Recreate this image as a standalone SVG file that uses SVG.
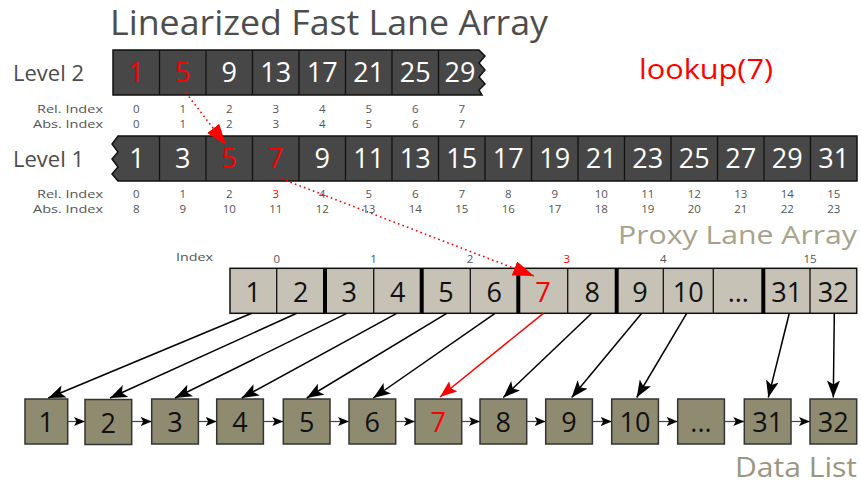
<svg xmlns="http://www.w3.org/2000/svg" width="861" height="484" viewBox="0 0 861 484">
  <style>
    text { font-family: "Open Sans", "DejaVu Sans", sans-serif; }
    .title { font-size: 34px; fill: #4d4d4d; }
    .lvl { font-size: 22px; fill: #4d4d4d; }
    .idxlab { font-size: 11.5px; fill: #555; text-anchor: end; }
    .idx { font-size: 11.5px; fill: #555; text-anchor: middle; }
    .dark { fill: #474747; stroke: #111; stroke-width: 1.5; }
    .sep { stroke: #111; stroke-width: 1.3; }
    .dnum { font-size: 27px; fill: #ffffff; text-anchor: middle; }
    .proxy { fill: #c6c2b5; stroke: #111; stroke-width: 1.5; }
    .thick { stroke: #000; stroke-width: 4; }
    .pnum { font-size: 27px; fill: #111; text-anchor: middle; }
    .box { fill: #8f8b71; stroke: #333; stroke-width: 1.5; }
    .bnum { font-size: 27px; fill: #111; text-anchor: middle; }
    .ptr { stroke: #000; stroke-width: 1.5; fill: none; }
    .chain { stroke: #444; stroke-width: 1.2; fill: none; }
    .hop { stroke: #ff0000; stroke-width: 1.6; stroke-dasharray: 1.6 3.2; fill: none; }
    .hit { stroke: #ff0000; stroke-width: 1.5; fill: none; }
    text.red { fill: #ff0000; }
  </style>
  <defs>
    <marker id="ah" markerUnits="userSpaceOnUse" markerWidth="18" markerHeight="14" refX="17" refY="6.5" orient="auto">
      <path d="M0,0 L17,6.5 L0,13 L4,6.5 z" fill="#000"/>
    </marker>
    <marker id="ahs" markerUnits="userSpaceOnUse" markerWidth="12" markerHeight="10" refX="11" refY="4.5" orient="auto">
      <path d="M0,0 L11,4.5 L0,9 L2.5,4.5 z" fill="#000"/>
    </marker>
    <marker id="ahr" markerUnits="userSpaceOnUse" markerWidth="22" markerHeight="16" refX="21" refY="7.5" orient="auto">
      <path d="M0,0 L21,7.5 L0,15 z" fill="#ff0000"/>
    </marker>
    <marker id="ahr2" markerUnits="userSpaceOnUse" markerWidth="18" markerHeight="14" refX="17" refY="6.5" orient="auto">
      <path d="M0,0 L17,6.5 L0,13 L3,6.5 z" fill="#ff0000"/>
    </marker>
  </defs>

  <!-- headings -->
  <text class="title" x="110" y="35" textLength="438" lengthAdjust="spacingAndGlyphs">Linearized Fast Lane Array</text>
  <text class="red" x="639" y="79" style="font-size:27px" textLength="134" lengthAdjust="spacingAndGlyphs">lookup(7)</text>
  <text x="618" y="243.5" fill="#a6a28c" style="font-size:25px" textLength="239" lengthAdjust="spacingAndGlyphs">Proxy Lane Array</text>
  <text x="735" y="477" fill="#9a9680" style="font-size:28px" textLength="122" lengthAdjust="spacingAndGlyphs">Data List</text>

  <!-- level 2 of the fast lane -->
  <g id="level2">
    <text class="lvl" x="13" y="81">Level 2</text>
    <path class="dark" d="M113,50 H479 L485,56 L479,63 L485,70 L479,77 L485,84 L479,90 L482,95 H113 Z"/>
    <g class="sep">
      <line x1="159.5" y1="50" x2="159.5" y2="95"/>
      <line x1="206" y1="50" x2="206" y2="95"/>
      <line x1="252.5" y1="50" x2="252.5" y2="95"/>
      <line x1="299" y1="50" x2="299" y2="95"/>
      <line x1="345.5" y1="50" x2="345.5" y2="95"/>
      <line x1="392" y1="50" x2="392" y2="95"/>
      <line x1="438.5" y1="50" x2="438.5" y2="95"/>
    </g>
    <g id="l2-c0"><text class="dnum red" x="136.25" y="82">1</text></g>
    <g id="l2-c1"><text class="dnum red" x="182.75" y="82">5</text></g>
    <g id="l2-c2"><text class="dnum" x="229.25" y="82">9</text></g>
    <g id="l2-c3"><text class="dnum" x="275.75" y="82">13</text></g>
    <g id="l2-c4"><text class="dnum" x="322.25" y="82">17</text></g>
    <g id="l2-c5"><text class="dnum" x="368.75" y="82">21</text></g>
    <g id="l2-c6"><text class="dnum" x="415.25" y="82">25</text></g>
    <g id="l2-c7"><text class="dnum" x="460" y="82">29</text></g>
    <text class="idxlab" x="103" y="112.5" textLength="66" lengthAdjust="spacingAndGlyphs">Rel. Index</text>
    <text class="idxlab" x="103" y="127.5" textLength="70" lengthAdjust="spacingAndGlyphs">Abs. Index</text>
    <g class="idx">
      <text x="136.25" y="112.5">0</text><text x="182.75" y="112.5">1</text><text x="229.25" y="112.5">2</text><text x="275.75" y="112.5">3</text>
      <text x="322.25" y="112.5">4</text><text x="368.75" y="112.5">5</text><text x="415.25" y="112.5">6</text><text x="461.75" y="112.5">7</text>
      <text x="136.25" y="127.5">0</text><text x="182.75" y="127.5">1</text><text x="229.25" y="127.5">2</text><text x="275.75" y="127.5">3</text>
      <text x="322.25" y="127.5">4</text><text x="368.75" y="127.5">5</text><text x="415.25" y="127.5">6</text><text x="461.75" y="127.5">7</text>
    </g>
  </g>

  <!-- level 1 of the fast lane -->
  <g id="level1">
    <text class="lvl" x="13" y="167">Level 1</text>
    <path class="dark" d="M118,136 H857 V181 H118 L112,174 L118,167 L112,159 L118,152 L112,144 Z"/>
    <g class="sep">
      <line x1="159.5" y1="136" x2="159.5" y2="181"/>
      <line x1="206" y1="136" x2="206" y2="181"/>
      <line x1="252.5" y1="136" x2="252.5" y2="181"/>
      <line x1="299" y1="136" x2="299" y2="181"/>
      <line x1="345.5" y1="136" x2="345.5" y2="181"/>
      <line x1="392" y1="136" x2="392" y2="181"/>
      <line x1="438.5" y1="136" x2="438.5" y2="181"/>
      <line x1="485" y1="136" x2="485" y2="181"/>
      <line x1="531.5" y1="136" x2="531.5" y2="181"/>
      <line x1="578" y1="136" x2="578" y2="181"/>
      <line x1="624.5" y1="136" x2="624.5" y2="181"/>
      <line x1="671" y1="136" x2="671" y2="181"/>
      <line x1="717.5" y1="136" x2="717.5" y2="181"/>
      <line x1="764" y1="136" x2="764" y2="181"/>
      <line x1="810.5" y1="136" x2="810.5" y2="181"/>
    </g>
    <g id="l1-c0"><text class="dnum" x="137" y="168">1</text></g>
    <g id="l1-c1"><text class="dnum" x="182.75" y="168">3</text></g>
    <g id="l1-c2"><text class="dnum red" x="229.25" y="168">5</text></g>
    <g id="l1-c3"><text class="dnum red" x="275.75" y="168">7</text></g>
    <g id="l1-c4"><text class="dnum" x="322.25" y="168">9</text></g>
    <g id="l1-c5"><text class="dnum" x="368.75" y="168">11</text></g>
    <g id="l1-c6"><text class="dnum" x="415.25" y="168">13</text></g>
    <g id="l1-c7"><text class="dnum" x="461.75" y="168">15</text></g>
    <g id="l1-c8"><text class="dnum" x="508.25" y="168">17</text></g>
    <g id="l1-c9"><text class="dnum" x="554.75" y="168">19</text></g>
    <g id="l1-c10"><text class="dnum" x="601.25" y="168">21</text></g>
    <g id="l1-c11"><text class="dnum" x="647.75" y="168">23</text></g>
    <g id="l1-c12"><text class="dnum" x="694.25" y="168">25</text></g>
    <g id="l1-c13"><text class="dnum" x="740.75" y="168">27</text></g>
    <g id="l1-c14"><text class="dnum" x="787.25" y="168">29</text></g>
    <g id="l1-c15"><text class="dnum" x="833.75" y="168">31</text></g>
    <text class="idxlab" x="103" y="198" textLength="66" lengthAdjust="spacingAndGlyphs">Rel. Index</text>
    <text class="idxlab" x="103" y="213" textLength="70" lengthAdjust="spacingAndGlyphs">Abs. Index</text>
    <g class="idx">
      <text x="136.25" y="198">0</text><text x="182.75" y="198">1</text><text x="229.25" y="198">2</text><text class="red" x="275.75" y="198">3</text>
      <text x="322.25" y="198">4</text><text x="368.75" y="198">5</text><text x="415.25" y="198">6</text><text x="461.75" y="198">7</text>
      <text x="508.25" y="198">8</text><text x="554.75" y="198">9</text><text x="601.25" y="198">10</text><text x="647.75" y="198">11</text>
      <text x="694.25" y="198">12</text><text x="740.75" y="198">13</text><text x="787.25" y="198">14</text><text x="833.75" y="198">15</text>
      <text x="136.25" y="213">8</text><text x="182.75" y="213">9</text><text x="229.25" y="213">10</text><text x="275.75" y="213">11</text>
      <text x="322.25" y="213">12</text><text x="368.75" y="213">13</text><text x="415.25" y="213">14</text><text x="461.75" y="213">15</text>
      <text x="508.25" y="213">16</text><text x="554.75" y="213">17</text><text x="601.25" y="213">18</text><text x="647.75" y="213">19</text>
      <text x="694.25" y="213">20</text><text x="740.75" y="213">21</text><text x="787.25" y="213">22</text><text x="833.75" y="213">23</text>
    </g>
  </g>

  <!-- proxy lane array -->
  <g id="proxy">
    <text class="idx" x="194.5" y="261" textLength="37" lengthAdjust="spacingAndGlyphs">Index</text>
    <g class="idx">
      <text x="276.7" y="263">0</text><text x="373.5" y="263">1</text><text x="470" y="263">2</text>
      <text class="red" x="566.7" y="263">3</text><text x="663.3" y="263">4</text><text x="810" y="263">15</text>
    </g>
    <rect class="proxy" x="230" y="268.3" width="626.7" height="45"/>
    <g class="sep">
      <line x1="276.7" y1="268.3" x2="276.7" y2="313.3"/>
      <line x1="373.7" y1="268.3" x2="373.7" y2="313.3"/>
      <line x1="470.3" y1="268.3" x2="470.3" y2="313.3"/>
      <line x1="567.7" y1="268.3" x2="567.7" y2="313.3"/>
      <line x1="663.3" y1="268.3" x2="663.3" y2="313.3"/>
      <line x1="713.3" y1="268.3" x2="713.3" y2="313.3"/>
      <line x1="810" y1="268.3" x2="810" y2="313.3"/>
    </g>
    <g class="thick">
      <line x1="325" y1="268.3" x2="325" y2="313.3"/>
      <line x1="421.7" y1="268.3" x2="421.7" y2="313.3"/>
      <line x1="518.3" y1="268.3" x2="518.3" y2="313.3"/>
      <line x1="616.7" y1="268.3" x2="616.7" y2="313.3"/>
      <line x1="763.3" y1="268.3" x2="763.3" y2="313.3"/>
    </g>
    <g id="p-1"><text class="pnum" x="253.3" y="302">1</text></g>
    <g id="p-2"><text class="pnum" x="300.8" y="302">2</text></g>
    <g id="p-3"><text class="pnum" x="349.3" y="302">3</text></g>
    <g id="p-4"><text class="pnum" x="397.7" y="302">4</text></g>
    <g id="p-5"><text class="pnum" x="446" y="302">5</text></g>
    <g id="p-6"><text class="pnum" x="494.3" y="302">6</text></g>
    <g id="p-7"><text class="pnum red" x="543" y="302">7</text></g>
    <g id="p-8"><text class="pnum" x="592.2" y="302">8</text></g>
    <g id="p-9"><text class="pnum" x="640" y="302">9</text></g>
    <g id="p-10"><text class="pnum" x="688.3" y="302">10</text></g>
    <g id="p-more"><text class="pnum" x="738.3" y="302">...</text></g>
    <g id="p-31"><text class="pnum" x="786.7" y="302">31</text></g>
    <g id="p-32"><text class="pnum" x="833.3" y="302">32</text></g>
  </g>

  <!-- data list -->
  <g id="d-1"><rect class="box" x="25" y="399" width="42.7" height="45"/><text class="bnum" x="46.3" y="432">1</text></g>
  <g id="d-2"><rect class="box" x="85" y="399.5" width="46.7" height="45"/><text class="bnum" x="108.3" y="432.5">2</text></g>
  <g id="d-3"><rect class="box" x="151.7" y="399" width="46.7" height="45"/><text class="bnum" x="175" y="432">3</text></g>
  <g id="d-4"><rect class="box" x="216.7" y="399" width="46.7" height="45"/><text class="bnum" x="240" y="432">4</text></g>
  <g id="d-5"><rect class="box" x="283.3" y="399" width="46.7" height="45"/><text class="bnum" x="306.7" y="432">5</text></g>
  <g id="d-6"><rect class="box" x="349" y="399" width="46.7" height="45"/><text class="bnum" x="372.3" y="432">6</text></g>
  <g id="d-7"><rect class="box" x="415" y="399" width="46.7" height="45"/><text class="bnum red" x="438.3" y="432">7</text></g>
  <g id="d-8"><rect class="box" x="480" y="399" width="46.7" height="45"/><text class="bnum" x="503.3" y="432">8</text></g>
  <g id="d-9"><rect class="box" x="545.7" y="399" width="46.7" height="45"/><text class="bnum" x="569" y="432">9</text></g>
  <g id="d-10"><rect class="box" x="611.7" y="399" width="46.7" height="45"/><text class="bnum" x="635" y="432">10</text></g>
  <g id="d-more"><rect class="box" x="677.7" y="399" width="46.7" height="45"/><text class="bnum" x="701" y="432">...</text></g>
  <g id="d-31"><rect class="box" x="744.3" y="399" width="46.7" height="45"/><text class="bnum" x="767.7" y="432">31</text></g>
  <g id="d-32"><rect class="box" x="810" y="399" width="46.7" height="45"/><text class="bnum" x="833.3" y="432">32</text></g>

  <!-- connectors -->
  <g id="connectors">
    <!-- list chain -->
    <g class="chain" marker-end="url(#ahs)">
      <line x1="67.7" y1="421.5" x2="85" y2="421.5"/>
      <line x1="131.7" y1="421.5" x2="151.7" y2="421.5"/>
      <line x1="198.4" y1="421.5" x2="216.7" y2="421.5"/>
      <line x1="263.4" y1="421.5" x2="283.3" y2="421.5"/>
      <line x1="330" y1="421.5" x2="349" y2="421.5"/>
      <line x1="395.7" y1="421.5" x2="415" y2="421.5"/>
      <line x1="461.7" y1="421.5" x2="480" y2="421.5"/>
      <line x1="526.7" y1="421.5" x2="545.7" y2="421.5"/>
      <line x1="592.4" y1="421.5" x2="611.7" y2="421.5"/>
      <line x1="658.4" y1="421.5" x2="677.7" y2="421.5"/>
      <line x1="724.4" y1="421.5" x2="744.3" y2="421.5"/>
      <line x1="791" y1="421.5" x2="810" y2="421.5"/>
    </g>
    <!-- proxy slots to list nodes -->
    <g class="ptr" marker-end="url(#ah)">
      <line x1="251.7" y1="313.3" x2="48.3" y2="398"/>
      <line x1="296.7" y1="313.3" x2="110" y2="398"/>
      <line x1="346.7" y1="313.3" x2="175" y2="398"/>
      <line x1="396.7" y1="313.3" x2="241.7" y2="398"/>
      <line x1="446.7" y1="313.3" x2="306.7" y2="398"/>
      <line x1="495" y1="313.3" x2="373.3" y2="398"/>
      <line x1="591.7" y1="313.3" x2="503.3" y2="397.5"/>
      <line x1="641.7" y1="313.3" x2="571.7" y2="397.5"/>
      <line x1="686.7" y1="313.3" x2="636.7" y2="397.5"/>
      <line x1="789.3" y1="313.3" x2="768.3" y2="397.5"/>
      <line x1="834.3" y1="313.3" x2="833.3" y2="397.5"/>
    </g>
    <!-- lookup path -->
    <line class="hop" x1="183" y1="89" x2="226" y2="145" marker-end="url(#ahr)"/>
    <line class="hop" x1="277" y1="177" x2="534" y2="276" marker-end="url(#ahr)"/>
    <line class="hit" x1="543.3" y1="313.3" x2="440" y2="397" marker-end="url(#ahr2)"/>
  </g>
</svg>
